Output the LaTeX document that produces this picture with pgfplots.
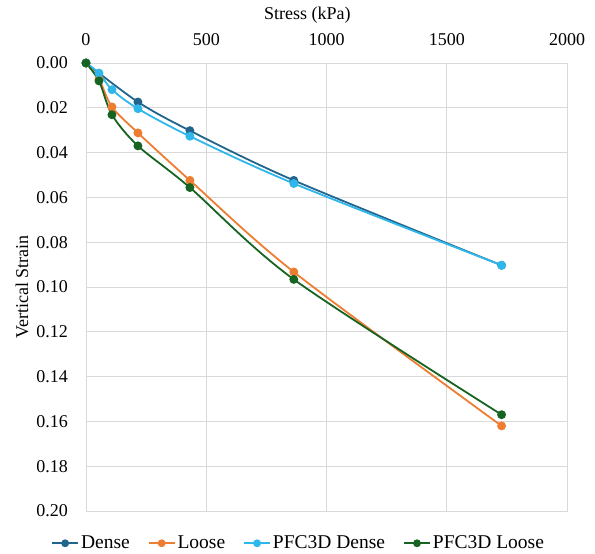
\documentclass[border=0pt]{standalone}
\usepackage{fontspec}
\setmainfont{Liberation Serif}
\usepackage{pgfplots}
\pgfplotsset{compat=1.18}
\definecolor{dense}{RGB}{33,100,140}
\definecolor{loose}{RGB}{237,125,49}
\definecolor{pfcdense}{RGB}{47,183,235}
\definecolor{pfcloose}{RGB}{22,99,34}
\definecolor{gridc}{RGB}{217,217,217}

\begin{document}
\fontsize{18bp}{21bp}\selectfont
\begin{tikzpicture}
\path (-86bp,-40bp) rectangle (509bp,511bp);
\begin{axis}[
  name=ax,
  scale only axis,
  width=481bp, height=448bp,
  xmin=0, xmax=2000,
  ymin=0, ymax=0.2,
  y dir=reverse,
  xtick={0,500,1000,1500,2000},
  ytick={0,0.02,...,0.201},
  xticklabel pos=upper,
  xticklabel shift=11bp,
  yticklabel shift=12bp,
  /pgf/number format/assume math mode=true,
  yticklabel style={/pgf/number format/fixed, /pgf/number format/fixed zerofill, /pgf/number format/precision=2},
  xticklabel style={/pgf/number format/1000 sep={}},
  scaled y ticks=false,
  tick style={draw=none},
  grid=major,
  grid style={gridc, line width=0.9bp},
  axis line style={gridc, line width=0.9bp},
  ticklabel style={font=\fontsize{18bp}{21bp}\selectfont},
  label style={font=\fontsize{18bp}{21bp}\selectfont},
  xlabel={Stress (kPa)},
  xlabel style={at={(axis description cs:0.46,1.107)}, anchor=center},
  ylabel={Vertical Strain},
  ylabel style={at={(axis description cs:-0.133,0.5)}, anchor=center},
  every axis plot/.append style={line width=1.8bp, smooth, tension=0.5, mark=*, mark size=3.5bp, mark options={solid}},
  legend columns=4,
  legend style={draw=none, fill=none, at={(0.442,-0.072)}, anchor=center,
    font=\fontsize{19.5bp}{22bp}\selectfont,
    /tikz/every even column/.append style={column sep=16bp},
    inner sep=0pt},
  legend image code/.code={\draw[mark repeat=2, mark phase=2, line width=1.8bp, mark size=3bp]
    plot coordinates {(0bp,0bp) (13bp,0bp) (26bp,0bp)};},
]
\addplot[dense] coordinates {
  (0,0) (216,0.0174) (432,0.0302) (864,0.0524) (1728,0.0903)
};
\addlegendentry{Dense}
\addplot[loose] coordinates {
  (0,0) (54,0.0072) (108,0.0196) (216,0.0312) (432,0.0524) (864,0.0933) (1728,0.162)
};
\addlegendentry{Loose}
\addplot[pfcdense] coordinates {
  (0,0) (54,0.0045) (108,0.0119) (216,0.0204) (432,0.0327) (864,0.0538) (1728,0.0903)
};
\addlegendentry{PFC3D Dense}
\addplot[pfcloose] coordinates {
  (0,0) (54,0.0080) (108,0.0231) (216,0.0370) (432,0.0556) (864,0.0966) (1728,0.157)
};
\addlegendentry{PFC3D Loose}
\end{axis}
\end{tikzpicture}
\end{document}
